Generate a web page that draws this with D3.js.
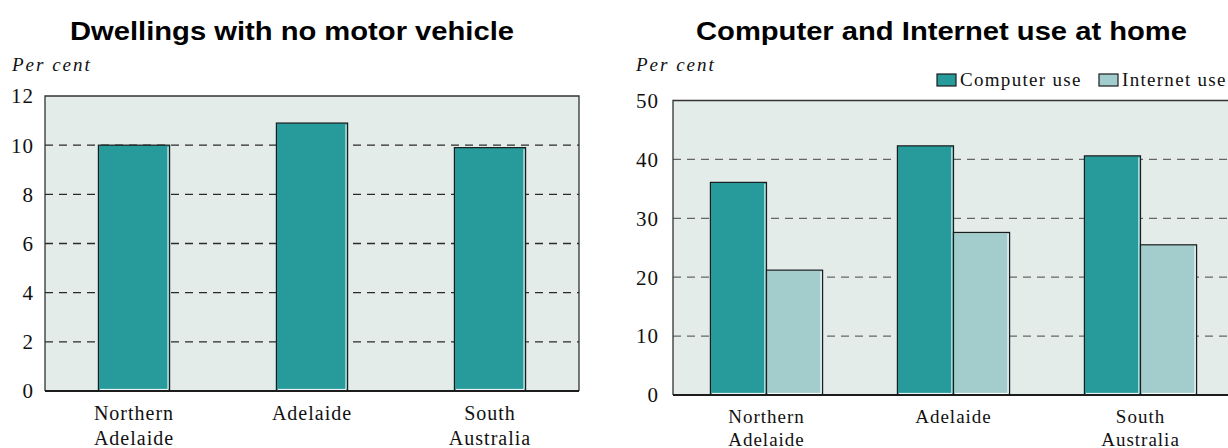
<!DOCTYPE html>
<html>
<head>
<meta charset="utf-8">
<script src="https://cdn.jsdelivr.net/npm/d3@7"></script>
<style>
  body { margin: 0; background: #fff; }
  svg { display: block; }
  .title { font-family: "Liberation Sans", Arial, sans-serif; font-weight: bold; font-size: 25px; }
  .serif { font-family: "Liberation Serif", "Times New Roman", serif; fill: #111; }
</style>
</head>
<body>
<svg id="chart" width="1228" height="448"></svg>
<script>
// left chart data
var vehicle_categories = ["Northern Adelaide", "Adelaide", "South Australia"];
var vehicle_values = [10.0, 10.9, 9.9];
var vehicle_ticks = [0, 2, 4, 6, 8, 10, 12];

// right chart data
var internet_categories = ["Northern Adelaide", "Adelaide", "South Australia"];
var computer_use = [36.1, 42.3, 40.6];
var internet_use = [21.2, 27.6, 25.5];
var internet_ticks = [0, 10, 20, 30, 40, 50];
var series_names = ["Computer use", "Internet use"];

var teal = "#279b9b",
    light_teal = "#a3cdcc",
    plot_bg = "#e4ecea",
    edge = "#1c1c1c";

var svg = d3.select("#chart");

// category label lines
var label_lines = {
    "Northern Adelaide": ["Northern", "Adelaide"],
    "Adelaide": ["Adelaide"],
    "South Australia": ["South", "Australia"]
};

function draw_frame(g, x0, x1, y, ticks, tick_x, grid_color) {
    var top = y(d3.max(ticks)), bottom = y(0);
    g.append("rect")
        .attr("x", x0).attr("y", top)
        .attr("width", x1 - x0).attr("height", bottom - top)
        .attr("fill", plot_bg);

    g.selectAll("line.grid")
        .data(ticks.filter(function(t) { return t > 0 && t < d3.max(ticks); }))
        .enter().append("line")
        .attr("class", "grid")
        .attr("x1", x0).attr("x2", x1)
        .attr("y1", function(d) { return y(d); })
        .attr("y2", function(d) { return y(d); })
        .attr("stroke", grid_color)
        .attr("stroke-width", 1.3)
        .attr("stroke-dasharray", "8,6");

    g.selectAll("text.tick")
        .data(ticks)
        .enter().append("text")
        .attr("class", "serif tick")
        .attr("x", tick_x)
        .attr("y", function(d) { return y(d); })
        .attr("dy", "0.35em")
        .attr("text-anchor", "end")
        .style("font-size", "21px")
        .style("letter-spacing", "1px")
        .text(function(d) { return d; });
}

function draw_border(g, x0, x1, y, ticks) {
    var top = y(d3.max(ticks)), bottom = y(0);
    g.append("path")
        .attr("d", "M" + x0 + "," + bottom + "V" + top + "H" + x1 + "V" + bottom)
        .attr("fill", "none")
        .attr("stroke", "#333")
        .attr("stroke-width", 1.3);
    g.append("line")
        .attr("x1", x0).attr("x2", x1)
        .attr("y1", bottom).attr("y2", bottom)
        .attr("stroke", edge)
        .attr("stroke-width", 2);
}

function draw_bar(g, x, y0, w, y1, fill) {
    g.append("rect")
        .attr("x", x).attr("y", y0)
        .attr("width", w).attr("height", y1 - y0)
        .attr("fill", fill)
        .attr("stroke", edge)
        .attr("stroke-width", 1.2);
    // light edge on the right and bottom
    g.append("path")
        .attr("d", "M" + (x + w - 1.6) + "," + (y0 + 1.5) + "V" + (y1 - 1.6) + "H" + (x + 1.5))
        .attr("fill", "none")
        .attr("stroke", "#fff")
        .attr("stroke-width", 1);
}

function draw_cat_labels(g, x, categories, base_y, size, gap) {
    categories.forEach(function(c) {
        var t = g.append("text")
            .attr("class", "serif")
            .attr("text-anchor", "middle")
            .attr("y", base_y)
            .style("font-size", size + "px")
            .style("letter-spacing", "1px");
        label_lines[c].forEach(function(line, i) {
            t.append("tspan")
                .attr("x", x(c) + x.bandwidth() / 2)
                .attr("dy", i == 0 ? 0 : gap)
                .text(line);
        });
    });
}

// ---------- left chart ----------
(function() {
    var g = svg.append("g");
    var x0 = 45, x1 = 579;
    var y = d3.scaleLinear().domain([0, 12]).range([391, 96]);
    var x = d3.scaleBand()
        .domain(vehicle_categories)
        .range([x0, x1])
        .paddingInner(0.6)
        .paddingOuter(0.3);

    g.append("text")
        .attr("class", "title")
        .attr("x", 70).attr("y", 40)
        .attr("textLength", 444)
        .attr("lengthAdjust", "spacingAndGlyphs")
        .text("Dwellings with no motor vehicle");

    g.append("text")
        .attr("class", "serif")
        .attr("x", 12).attr("y", 71)
        .style("font-size", "19px")
        .style("font-style", "italic")
        .style("letter-spacing", "2px")
        .text("Per cent");

    draw_frame(g, x0, x1, y, vehicle_ticks, 34, "#2a2a2a");

    vehicle_categories.forEach(function(c, i) {
        draw_bar(g, x(c), y(vehicle_values[i]), x.bandwidth(), y(0), teal);
    });

    draw_border(g, x0, x1, y, vehicle_ticks);
    draw_cat_labels(g, x, vehicle_categories, 420, 20, 25);
})();

// ---------- right chart ----------
(function() {
    var g = svg.append("g");
    var x0 = 673, x1 = 1234;
    var y = d3.scaleLinear().domain([0, 50]).range([395, 100.5]);
    var x = d3.scaleBand()
        .domain(internet_categories)
        .range([x0, x1])
        .paddingInner(0.4)
        .paddingOuter(0.2);
    var xs = d3.scaleBand()
        .domain(series_names)
        .range([0, x.bandwidth()]);
    var colors = d3.scaleOrdinal().domain(series_names).range([teal, light_teal]);

    g.append("text")
        .attr("class", "title")
        .attr("x", 696).attr("y", 40)
        .attr("textLength", 491)
        .attr("lengthAdjust", "spacingAndGlyphs")
        .text("Computer and Internet use at home");

    g.append("text")
        .attr("class", "serif")
        .attr("x", 636).attr("y", 71)
        .style("font-size", "19px")
        .style("font-style", "italic")
        .style("letter-spacing", "2px")
        .text("Per cent");

    draw_frame(g, x0, x1, y, internet_ticks, 659, "#666");

    var series = [computer_use, internet_use];
    internet_categories.forEach(function(c, i) {
        series_names.forEach(function(s, j) {
            draw_bar(g, x(c) + xs(s), y(series[j][i]), xs.bandwidth(), y(0), colors(s));
        });
    });

    draw_border(g, x0, x1, y, internet_ticks);
    draw_cat_labels(g, x, internet_categories, 423, 19, 23);

    // legend
    var legend_x = [937, 1099];
    series_names.forEach(function(s, j) {
        g.append("rect")
            .attr("x", legend_x[j]).attr("y", 74)
            .attr("width", 19).attr("height", 12)
            .attr("fill", colors(s))
            .attr("stroke", edge)
            .attr("stroke-width", 1.2);
        g.append("text")
            .attr("class", "serif")
            .attr("x", legend_x[j] + 23).attr("y", 86)
            .style("font-size", "19px")
            .style("letter-spacing", "1.3px")
            .text(s);
    });
})();
</script>
</body>
</html>
